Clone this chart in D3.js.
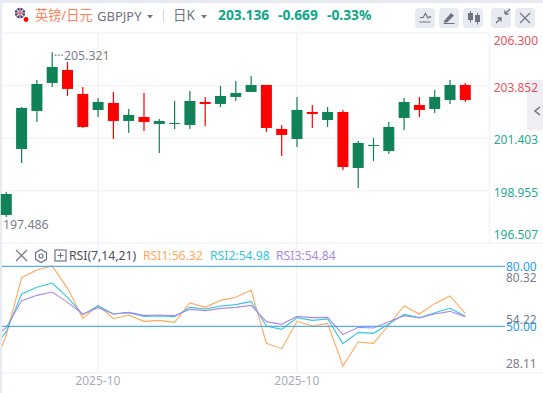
<!DOCTYPE html>
<html>
<head>
<meta charset="utf-8">
<script src="https://cdn.jsdelivr.net/npm/d3@7"></script>
<style>
  html, body { margin: 0; padding: 0; background: #fff; overflow: hidden; }
  text { font-family: "Noto Sans", "Noto Sans CJK SC", sans-serif; }
</style>
</head>
<body>
<div id="chart"></div>
<script>
const width = 543
const height = 393

// candles, one entry per day
const opens = [197.825, 200.900, 202.670, 203.974, 204.579, 203.461, 202.716, 203.042, 202.204, 202.390, 202.064, 202.097, 202.018, 203.089, 202.996, 203.322, 203.555, 203.881, 201.831, 201.365, 202.623, 202.250, 202.623, 200.015, 201.072, 200.806, 202.344, 202.949, 202.763, 203.182, 203.881]
const highs = [198.897, 202.856, 204.114, 205.404, 204.952, 203.787, 203.275, 203.555, 202.763, 203.508, 202.297, 203.136, 203.601, 203.322, 203.834, 204.067, 204.300, 203.881, 202.018, 203.322, 202.949, 202.856, 202.716, 201.272, 201.412, 202.157, 203.275, 203.322, 203.648, 204.114, 203.974]
const lows = [197.732, 200.248, 202.157, 203.787, 203.368, 201.878, 202.390, 201.365, 201.645, 201.738, 200.713, 201.831, 201.831, 201.971, 202.856, 203.136, 203.555, 201.691, 200.573, 200.993, 201.878, 201.924, 199.921, 199.083, 200.340, 200.667, 201.785, 202.390, 202.576, 202.996, 203.089]
const closes = [198.803, 202.809, 203.927, 204.719, 203.694, 201.924, 203.089, 202.204, 202.483, 202.157, 202.204, 202.111, 203.136, 202.996, 203.368, 203.508, 203.881, 201.878, 201.552, 202.716, 202.530, 202.623, 200.061, 201.179, 201.086, 201.924, 203.089, 202.716, 203.322, 203.881, 203.182]

// rsi series start one day before the first visible candle
const rsi1 = [26.5, 45.65, 74.3, 78.15, 80.15, 68.98, 53.98, 60.48, 53.82, 55.65, 52.48, 52.98, 51.98, 61.65, 59.48, 62.98, 64.48, 68.15, 41.48, 38.82, 52.48, 50.15, 51.48, 30.15, 42.15, 41.48, 50.65, 60.15, 56.15, 61.32, 65.15, 56.32]
const rsi2 = [37.8, 47.32, 66.15, 69.48, 71.65, 64.48, 55.82, 60.15, 56.15, 56.82, 54.98, 55.15, 54.82, 59.48, 58.65, 60.15, 60.82, 62.48, 50.15, 48.48, 54.32, 52.98, 53.65, 41.32, 46.98, 46.48, 51.15, 55.98, 54.32, 56.82, 58.98, 54.98]
const rsi3 = [43.3, 49.48, 62.82, 65.48, 67.15, 61.98, 56.15, 59.32, 56.15, 56.98, 55.48, 55.65, 55.32, 58.48, 57.82, 58.98, 59.48, 60.48, 52.32, 50.98, 54.98, 54.32, 54.48, 45.82, 49.48, 49.15, 52.32, 55.32, 54.15, 56.15, 57.48, 54.84]

const priceTicks = [206.300, 203.852, 201.403, 198.955, 196.507]
const rsiTicks = [80.32, 54.22, 28.11]
const rsiLevels = [80, 50]
const dateLabels = [{ day: 6, label: '2025-10' }, { day: 19, label: '2025-10' }]

const green = '#118257'
const red = '#ff0000'
const gridColor = '#f3f4f8'
const frameColor = '#e8ebf2'

const left = 2
const axisX = 489.5

const x = d3.scaleLinear().domain([0, 30]).range([6.3, 465.3])
const y = d3.scaleLinear().domain([196.507, 206.3]).range([243.3, 33])
const yRsi = d3.scaleLinear().domain([50, 80]).range([326.3, 266.3])

const svg = d3.select('#chart')
  .append('svg')
  .attr('width', width)
  .attr('height', height)
  .style('display', 'block')

// page frame + white card
svg.append('rect').attr('width', width).attr('height', height).attr('fill', frameColor)
svg.append('rect')
  .attr('x', left).attr('y', 3)
  .attr('width', width).attr('height', height)
  .attr('rx', 4)
  .attr('fill', '#fff')

svg.append('clipPath').attr('id', 'plot')
  .append('rect')
  .attr('x', left).attr('y', 243)
  .attr('width', axisX - left).attr('height', 130)

// grid
const grid = svg.append('g').attr('stroke', gridColor).attr('stroke-width', 1.5)
grid.selectAll('line.h')
  .data(priceTicks)
  .enter().append('line')
  .attr('x1', left).attr('x2', axisX)
  .attr('y1', d => y(d)).attr('y2', d => y(d))
grid.selectAll('line.v')
  .data(dateLabels)
  .enter().append('line')
  .attr('x1', d => x(d.day) - 0.2).attr('x2', d => x(d.day) - 0.2)
  .attr('y1', 33).attr('y2', 373)
grid.append('line').attr('x1', axisX).attr('x2', axisX).attr('y1', 33).attr('y2', 243)
grid.append('line').attr('x1', left).attr('x2', width).attr('y1', 373).attr('y2', 373)
grid.append('line').attr('x1', axisX).attr('x2', width).attr('y1', 243.3).attr('y2', 243.3)

// candles
const candles = svg.append('g').selectAll('g')
  .data(opens.map((o, i) => ({ i, o, h: highs[i], l: lows[i], c: closes[i] })))
  .enter().append('g')

candles.append('line')
  .attr('x1', d => x(d.i)).attr('x2', d => x(d.i))
  .attr('y1', d => y(d.h)).attr('y2', d => y(d.l))
  .attr('stroke', d => d.c >= d.o ? green : red)
  .attr('stroke-width', 1.2)

candles.append('rect')
  .attr('x', d => x(d.i) - 5.5)
  .attr('width', 11)
  .attr('y', d => y(Math.max(d.o, d.c)))
  .attr('height', d => Math.max(1, Math.abs(y(d.o) - y(d.c))))
  .attr('fill', d => d.c >= d.o ? green : red)

// high / low labels
svg.append('text').attr('x', 54).attr('y', 59.5)
  .attr('font-size', 12).attr('fill', '#7b7f8c').text('···')
svg.append('text').attr('x', 64).attr('y', 60)
  .attr('font-size', 12.3).attr('fill', '#7b7f8c').text('205.321')
svg.append('text').attr('x', 3).attr('y', 229)
  .attr('font-size', 12.3).attr('fill', '#7b7f8c').text('197.486')

// side tab goes under the price labels
const iconStroke = { fill: 'none', stroke: '#6f7480', 'stroke-width': 1.2 }
function styled(sel) {
  Object.keys(iconStroke).forEach(k => sel.attr(k, iconStroke[k]))
  return sel
}
svg.append('rect').attr('x', 527).attr('y', 80).attr('width', 16).attr('height', 50).attr('fill', '#eeeef3')
styled(svg.append('path')).attr('d', 'M540 107 L535 111 L540 115').attr('stroke-width', 1.6)

// price axis
const priceY = [44.5, 91.5, 144, 196.5, 238.5]
svg.append('g').selectAll('text')
  .data(priceTicks)
  .enter().append('text')
  .attr('x', 493.7)
  .attr('y', (d, i) => priceY[i])
  .attr('font-size', 12)
  .attr('fill', d => d > 203 ? '#e25563' : '#27ab8f')
  .text(d => d3.format('.3f')(d))

// rsi
const rsiLine = d3.line().x((d, i) => x(i - 1)).y(d => yRsi(d))
const rsiPanel = svg.append('g').attr('clip-path', 'url(#plot)')
const seriesColors = ['#ffa85c', '#35c5dc', '#a98be6']
;[rsi1, rsi2, rsi3].forEach((s, i) => {
  rsiPanel.append('path')
    .attr('d', rsiLine(s))
    .attr('fill', 'none')
    .attr('stroke', seriesColors[i])
    .attr('stroke-width', 1.1)
})

svg.append('g').selectAll('line')
  .data(rsiLevels)
  .enter().append('line')
  .attr('x1', left).attr('x2', 505)
  .attr('y1', d => yRsi(d)).attr('y2', d => yRsi(d))
  .attr('stroke', '#2f9bf0')
  .attr('stroke-width', 1)

const rsiTickY = [281.5, 324, 368]
svg.append('g').selectAll('text')
  .data(rsiTicks)
  .enter().append('text')
  .attr('x', 506)
  .attr('y', (d, i) => rsiTickY[i])
  .attr('font-size', 12)
  .attr('fill', '#7b7f8c')
  .text(d => d.toFixed(2))

svg.append('g').selectAll('text')
  .data(rsiLevels)
  .enter().append('text')
  .attr('x', 506)
  .attr('y', d => yRsi(d) + 4.5)
  .attr('font-size', 12)
  .attr('fill', '#2f9bf0')
  .text(d => d.toFixed(2))

svg.append('g').selectAll('text')
  .data(dateLabels)
  .enter().append('text')
  .attr('x', d => x(d.day) - 0.2)
  .attr('y', 385)
  .attr('text-anchor', 'middle')
  .attr('font-size', 12)
  .attr('fill', '#a9adb9')
  .text(d => d.label)

// rsi legend
styled(svg.append('path')).attr('d', 'M16 250 L27 261 M27 250 L16 261')
styled(svg.append('path')).attr('d', 'M41 249.5 L46.5 252.7 L46.5 259.3 L41 262.5 L35.5 259.3 L35.5 252.7 Z')
styled(svg.append('circle')).attr('cx', 41).attr('cy', 256).attr('r', 2)
styled(svg.append('rect')).attr('x', 55).attr('y', 250).attr('width', 11).attr('height', 11)
styled(svg.append('path')).attr('d', 'M57.5 255.5 H63.5 M60.5 252.5 V258.5')
svg.append('text').attr('x', 69).attr('y', 260)
  .attr('font-size', 12.2).attr('fill', '#4a4e5a').text('RSI(7,14,21)')
const legend = [
  { x: 143, color: '#ffa85c', label: 'RSI1:56.32' },
  { x: 210, color: '#35c5dc', label: 'RSI2:54.98' },
  { x: 276, color: '#a98be6', label: 'RSI3:54.84' }
]
svg.append('g').selectAll('text')
  .data(legend)
  .enter().append('text')
  .attr('x', d => d.x).attr('y', 260)
  .attr('font-size', 12.2)
  .attr('fill', d => d.color)
  .text(d => d.label)

// header
svg.append('circle').attr('cx', 20).attr('cy', 13).attr('r', 5.2).attr('fill', '#2b3a72')
svg.append('path').attr('d', 'M16.5 9.5 L23.5 16.5 M23.5 9.5 L16.5 16.5 M20 8 V18 M15 13 H25')
  .attr('stroke', '#e8e4e8').attr('stroke-width', 1.4)
svg.append('path').attr('d', 'M20 8 V18 M15 13 H25').attr('stroke', '#c8354a').attr('stroke-width', 0.9)
svg.append('circle').attr('cx', 26).attr('cy', 19.5).attr('r', 2.4).attr('fill', '#ff0000')

svg.append('text').attr('x', 35).attr('y', 20)
  .attr('font-size', 13.2).attr('fill', '#ff7f5c').text('英镑/日元')
svg.append('text').attr('x', 97).attr('y', 21)
  .attr('font-size', 13).attr('fill', '#6f7480').text('GBPJPY')
svg.append('path').attr('d', 'M147 15 H153 L150 18.5 Z').attr('fill', '#6f7480')
svg.append('line').attr('x1', 163.5).attr('x2', 163.5).attr('y1', 10).attr('y2', 22)
  .attr('stroke', '#d4d6dd')
svg.append('text').attr('x', 173).attr('y', 20)
  .attr('font-size', 13.5).attr('fill', '#6f7480').text('日K')
svg.append('path').attr('d', 'M201 15 H207 L204 18.5 Z').attr('fill', '#6f7480')

const quote = [
  { x: 218, label: '203.136' },
  { x: 278, label: '-0.669' },
  { x: 327, label: '-0.33%' }
]
svg.append('g').selectAll('text')
  .data(quote)
  .enter().append('text')
  .attr('x', d => d.x).attr('y', 20)
  .attr('font-size', 13.8)
  .attr('font-weight', 700)
  .attr('fill', '#10a689')
  .text(d => d.label)

// toolbar buttons
const buttons = [415, 439, 463, 491, 515]
svg.append('g').selectAll('rect')
  .data(buttons)
  .enter().append('rect')
  .attr('x', d => d).attr('y', 8)
  .attr('width', 20).attr('height', 20)
  .attr('rx', 4)
  .attr('fill', '#e8eaf1')

styled(svg.append('path')).attr('d', 'M420 17.5 L423 17.5 L425.5 13.5 L428 18 L430 16.5 L431 17.5 M419.5 22 H430.5')
svg.append('path').attr('d', 'M444 21 L451 13 L454 15.5 L447 22.5 L444 22.5 Z M443.5 23 H454.5 V24 H443.5 Z').attr('fill', '#6f7480')
svg.append('g').selectAll('rect')
  .data([468, 475])
  .enter().append('rect')
  .attr('x', d => d).attr('y', (d, i) => i ? 15 : 13)
  .attr('width', 5).attr('height', 7)
  .attr('fill', '#6f7480')
svg.append('path').attr('d', 'M470.5 11 V22.5 M477.5 13 V24.5').attr('stroke', '#6f7480')
styled(svg.append('path')).attr('d', 'M496 23 L501 18 M505 14 L510 9 M497.5 18 H501 V21.5 M505 14 H508.5 M505 14 V10.5').attr('stroke-width', 1.4)
styled(svg.append('path')).attr('d', 'M520 13 L530 23 M530 13 L520 23')
</script>
</body>
</html>
